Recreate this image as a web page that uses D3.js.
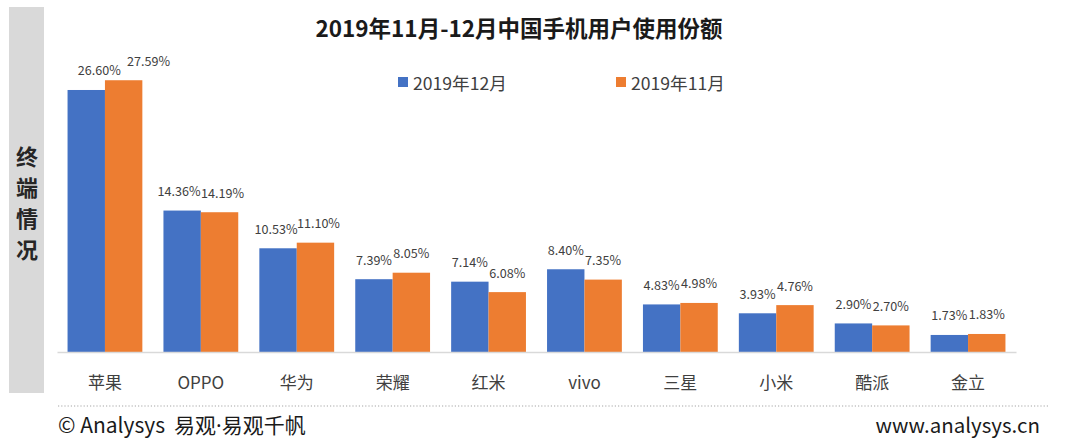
<!DOCTYPE html>
<html><head><meta charset="utf-8">
<script src="https://cdn.jsdelivr.net/npm/d3@7"></script>
<style>
html,body{margin:0;padding:0;background:#fff;}
svg{display:block;font-family:"Noto Sans CJK SC","Noto Sans",sans-serif;}
</style></head>
<body><svg id="c" width="1080" height="445"></svg>
<script>
const categories = ["苹果","OPPO","华为","荣耀","红米","vivo","三星","小米","酷派","金立"];
const seriesNames = ["2019年12月","2019年11月"];
const dec2019 = [26.60,14.36,10.53,7.39,7.14,8.40,4.83,3.93,2.90,1.73];
const nov2019 = [27.59,14.19,11.10,8.05,6.08,7.35,4.98,4.76,2.70,1.83];
const colors = ["#4472C4","#ED7D31"];
const titleText = "2019年11月-12月中国手机用户使用份额";
const sideText = ["终","端","情","况"];
const footerLeftParts = ["© Analysys", "易观", "·", "易观千帆"];
const footerRight = "www.analysys.cn";

const svg = d3.select("#c");
svg.append("rect").attr("width",1080).attr("height",445).attr("fill","#fff");

// side band
svg.append("rect").attr("x",9).attr("y",7).attr("width",35).attr("height",386).attr("fill","#d9d9d9");
svg.append("g").selectAll("text").data(sideText).join("text")
  .attr("x",27).attr("y",(d,i)=>155+i*31).attr("text-anchor","middle")
  .attr("dominant-baseline","central").attr("font-size",22).attr("font-weight","bold")
  .attr("fill","#262626").text(d=>d);

// title
svg.append("text").attr("x",519).attr("y",27).attr("text-anchor","middle")
  .attr("dominant-baseline","central").attr("font-size",22.5).attr("font-weight","bold")
  .attr("fill","#1a1a1a").text(titleText);

const x0 = d3.scaleBand().domain(categories).range([57,1016]).paddingInner(0.22).paddingOuter(0.11);
const x1 = d3.scaleBand().domain([0,1]).range([0,x0.bandwidth()]);
const y = d3.scaleLinear().domain([0,28]).range([352,352-28*9.85]);

const data = categories.map((c,i)=>({cat:c, vals:[dec2019[i],nov2019[i]]}));

const g = svg.append("g");
const groups = g.selectAll("g.grp").data(data).join("g").attr("class","grp")
  .attr("transform",d=>`translate(${x0(d.cat)},0)`);
groups.selectAll("rect").data(d=>d.vals.map((v,k)=>({v,k,cat:d.cat}))).join("rect")
  .attr("x",d=>x1(d.k)).attr("width",x1.bandwidth())
  .attr("y",d=>y(d.v)).attr("height",d=>y(0)-y(d.v)).attr("fill",d=>colors[d.k]);
const labelDx = {"苹果":[13,25],"OPPO":[-3,3],"华为":[-2,3]};
groups.selectAll("text").data(d=>d.vals.map((v,k)=>({v,k,cat:d.cat}))).join("text")
  .attr("x",d=>x1(d.k)+x1.bandwidth()/2+(labelDx[d.cat]?labelDx[d.cat][d.k]:0))
  .attr("y",d=>y(d.v)-20).attr("text-anchor","middle").attr("dominant-baseline","central")
  .attr("font-size",12.6).attr("fill","#404040").text(d=>d.v.toFixed(2)+"%");

// x axis
const ax = svg.append("g").attr("transform","translate(0,352)")
  .call(d3.axisBottom(x0).tickSize(0).tickPadding(0));
ax.select(".domain").attr("stroke","#d9d9d9").attr("stroke-width",1.5);
ax.selectAll("text").attr("y",29).attr("dy",0).attr("dominant-baseline","central")
  .attr("font-size",17).attr("fill","#404040")
  .attr("font-family",'"Noto Sans CJK SC","Noto Sans",sans-serif');

// legend
const leg = svg.append("g");
const legX = [398,616];
seriesNames.forEach((n,i)=>{
  leg.append("rect").attr("x",legX[i]).attr("y",77).attr("width",10).attr("height",10).attr("fill",colors[i]);
  leg.append("text").attr("x",legX[i]+15).attr("y",82).attr("dominant-baseline","central")
    .attr("font-size",17.6).attr("fill","#404040").text(n);
});

// footer
svg.append("line").attr("x1",58).attr("x2",1050).attr("y1",406).attr("y2",406)
  .attr("stroke","#a6a6a6").attr("stroke-width",1.2).attr("stroke-dasharray","1.2,2");
const fl = svg.append("text").attr("x",58).attr("y",433).attr("font-size",21).attr("fill","#1a1a1a");
fl.append("tspan").text(footerLeftParts[0]);
fl.append("tspan").attr("dx",9).text(footerLeftParts[1]);
fl.append("tspan").attr("font-family",'"Noto Sans","DejaVu Sans",sans-serif').text(footerLeftParts[2]);
fl.append("tspan").text(footerLeftParts[3]);
svg.append("text").attr("x",1040).attr("y",433).attr("text-anchor","end").attr("font-size",20.5)
  .attr("fill","#1a1a1a").text(footerRight);
</script></body></html>
